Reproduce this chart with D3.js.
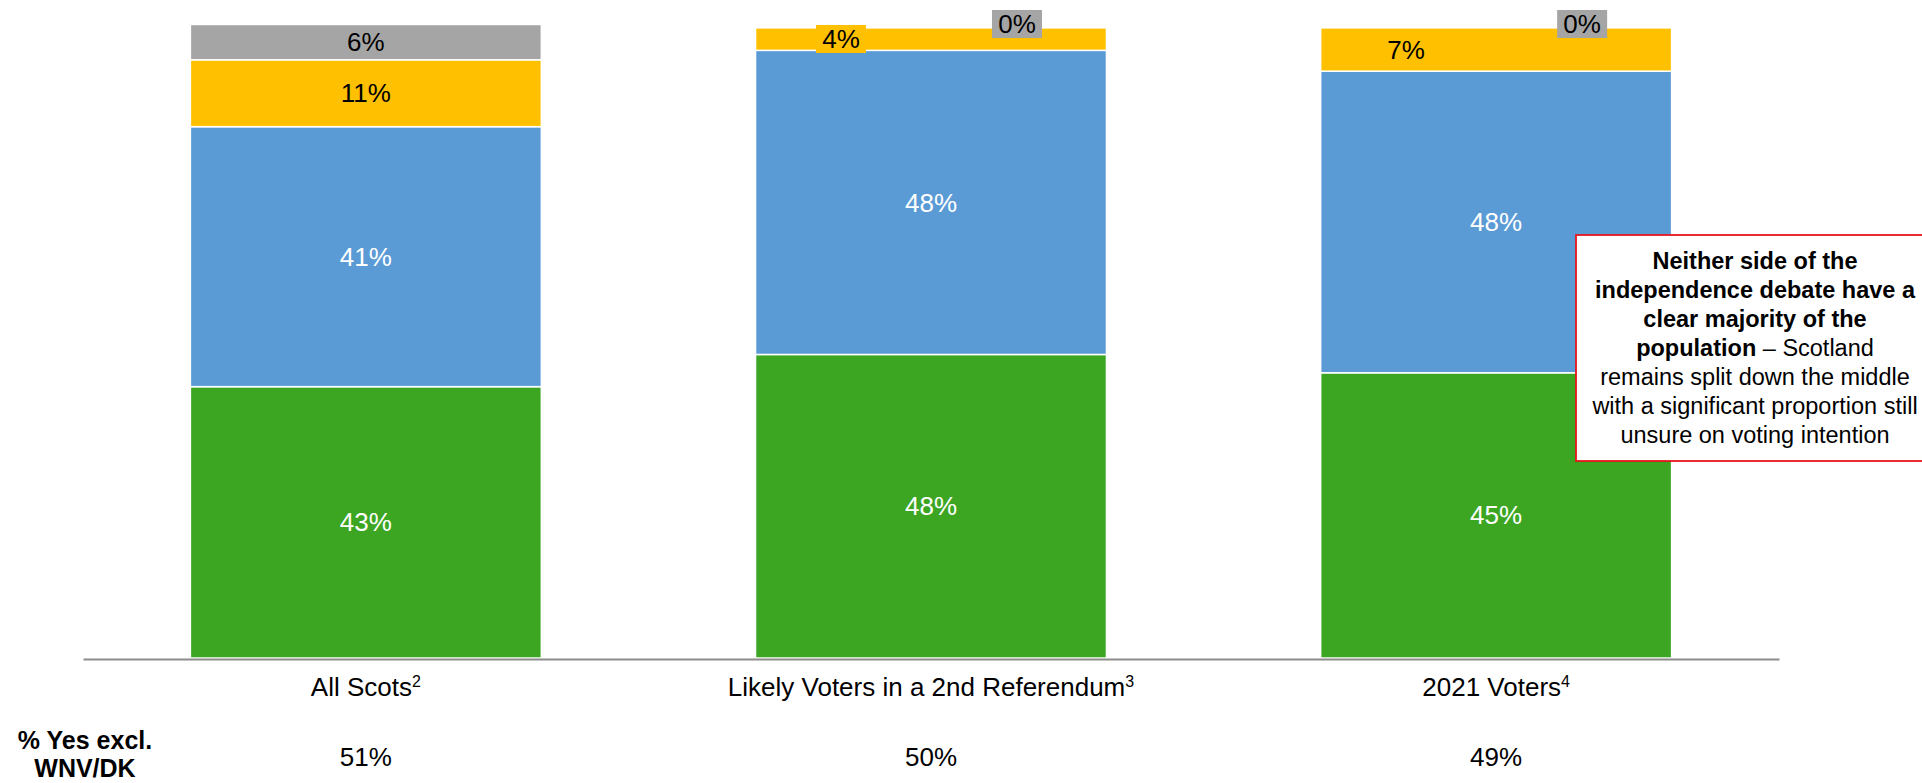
<!DOCTYPE html>
<html>
<head>
<meta charset="utf-8">
<script src="https://cdn.jsdelivr.net/npm/d3@7"></script>
<style>
  html, body { margin: 0; padding: 0; background: #ffffff; }
  svg { display: block; font-family: "Liberation Sans", Arial, sans-serif; }
</style>
</head>
<body>
<svg id="chart" width="1922" height="783"></svg>
<script>
// ---- data ----
const categories = ["All Scots", "Likely Voters in a 2nd Referendum", "2021 Voters"];
const footnotes = ["2", "3", "4"];
const seriesKeys = ["yes", "no", "undecided", "wnv"];
const yesValues = [43.0, 48.1, 45.2];
const noValues = [41.2, 48.2, 47.8];
const undecidedValues = [10.6, 3.6, 6.9];
const wnvValues = [5.6, 0.1, 0.1];
const yesExclValues = [51, 50, 49];
const rowLabelLines = ["% Yes excl.", "WNV/DK"];
const calloutLines = [
  [{t: "Neither side of the", b: true}],
  [{t: "independence debate have a", b: true}],
  [{t: "clear majority of the", b: true}],
  [{t: "population", b: true}, {t: " \u2013 Scotland", b: false}],
  [{t: "remains split down the middle", b: false}],
  [{t: "with a significant proportion still", b: false}],
  [{t: "unsure on voting intention", b: false}]
];

// ---- styles ----
const colors = {yes: "#3ca623", no: "#5b9bd5", undecided: "#ffc000", wnv: "#a5a5a5"};
const textColors = {yes: "#ffffff", no: "#ffffff", undecided: "#000000", wnv: "#000000"};

const rows = categories.map((c, i) => ({
  cat: c, yes: yesValues[i], no: noValues[i], undecided: undecidedValues[i], wnv: wnvValues[i]
}));

const svg = d3.select("#chart");

const x = d3.scaleBand().domain(categories).range([83, 1779]).paddingInner(0.379).paddingOuter(0.19);
const y = d3.scaleLinear().domain([0, 100]).range([658, 27]);

const stacked = d3.stack().keys(seriesKeys)(rows);

// bars
const layers = svg.append("g").selectAll("g").data(stacked).join("g")
  .attr("fill", d => colors[d.key]);
layers.selectAll("rect").data(d => d.map(v => Object.assign(v, {key: d.key}))).join("rect")
  .attr("x", d => x(d.data.cat))
  .attr("width", x.bandwidth())
  .attr("y", d => y(d[1]))
  .attr("height", d => Math.max(0, y(d[0]) - y(d[1])))
  .attr("stroke", "#ffffff")
  .attr("stroke-width", 1.5);

// axis line
const axisG = svg.append("g").attr("transform", "translate(0,659)");
axisG.call(d3.axisBottom(x).tickSize(0).tickFormat(""));
axisG.select(".domain").attr("stroke", "#8c8c8c").attr("stroke-width", 2);

// segment labels
const labelG = svg.append("g").attr("font-size", 26);
stacked.forEach(layer => {
  layer.forEach(d => {
    const cat = d.data.cat;
    const cx0 = x(cat) + x.bandwidth() / 2;
    const h = y(d[0]) - y(d[1]);
    const tinyTop = d.data.wnv < 1; // bars where the top category is near zero
    let cx = cx0, cy = (y(d[0]) + y(d[1])) / 2;
    if (tinyTop && layer.key === "undecided") cx = cx0 - 90;
    if (tinyTop && layer.key === "wnv") { cx = cx0 + 86; cy = y(d[1]) - 3; }
    const boxed = h < 28;
    if (boxed) {
      labelG.append("rect")
        .attr("x", cx - 25).attr("y", cy - 14)
        .attr("width", 50).attr("height", 28)
        .attr("fill", colors[layer.key]);
    }
    labelG.append("text")
      .attr("x", cx).attr("y", cy).attr("dy", "0.35em")
      .attr("text-anchor", "middle")
      .attr("fill", textColors[layer.key])
      .text(Math.round(d.data[layer.key]) + "%");
  });
});

// category labels
const catG = svg.append("g").attr("font-size", 26).attr("fill", "#000");
categories.forEach((c, i) => {
  const t = catG.append("text")
    .attr("x", x(c) + x.bandwidth() / 2)
    .attr("y", 696)
    .attr("text-anchor", "middle");
  t.append("tspan").text(c);
  t.append("tspan").attr("font-size", 16).attr("dy", -9).text(footnotes[i]);
});

// % Yes excl. row
const rowG = svg.append("g");
rowG.selectAll("text.rl").data(rowLabelLines).join("text")
  .attr("class", "rl")
  .attr("x", 85)
  .attr("y", (d, i) => 749 + i * 28)
  .attr("text-anchor", "middle")
  .attr("font-size", 25)
  .attr("font-weight", "bold")
  .text(d => d);
rowG.selectAll("text.rv").data(categories).join("text")
  .attr("class", "rv")
  .attr("x", d => x(d) + x.bandwidth() / 2)
  .attr("y", 766)
  .attr("text-anchor", "middle")
  .attr("font-size", 26)
  .text((d, i) => yesExclValues[i] + "%");

// callout
const callG = svg.append("g");
callG.append("rect")
  .attr("x", 1576).attr("y", 235)
  .attr("width", 380).attr("height", 226)
  .attr("fill", "#ffffff")
  .attr("stroke", "#e8141c")
  .attr("stroke-width", 1.8);
calloutLines.forEach((parts, i) => {
  const t = callG.append("text")
    .attr("x", 1755)
    .attr("y", 269 + i * 29)
    .attr("text-anchor", "middle")
    .attr("font-size", 23.5)
    .attr("fill", "#000");
  parts.forEach(p => {
    t.append("tspan").attr("font-weight", p.b ? "bold" : "normal").text(p.t);
  });
});
</script>
</body>
</html>
